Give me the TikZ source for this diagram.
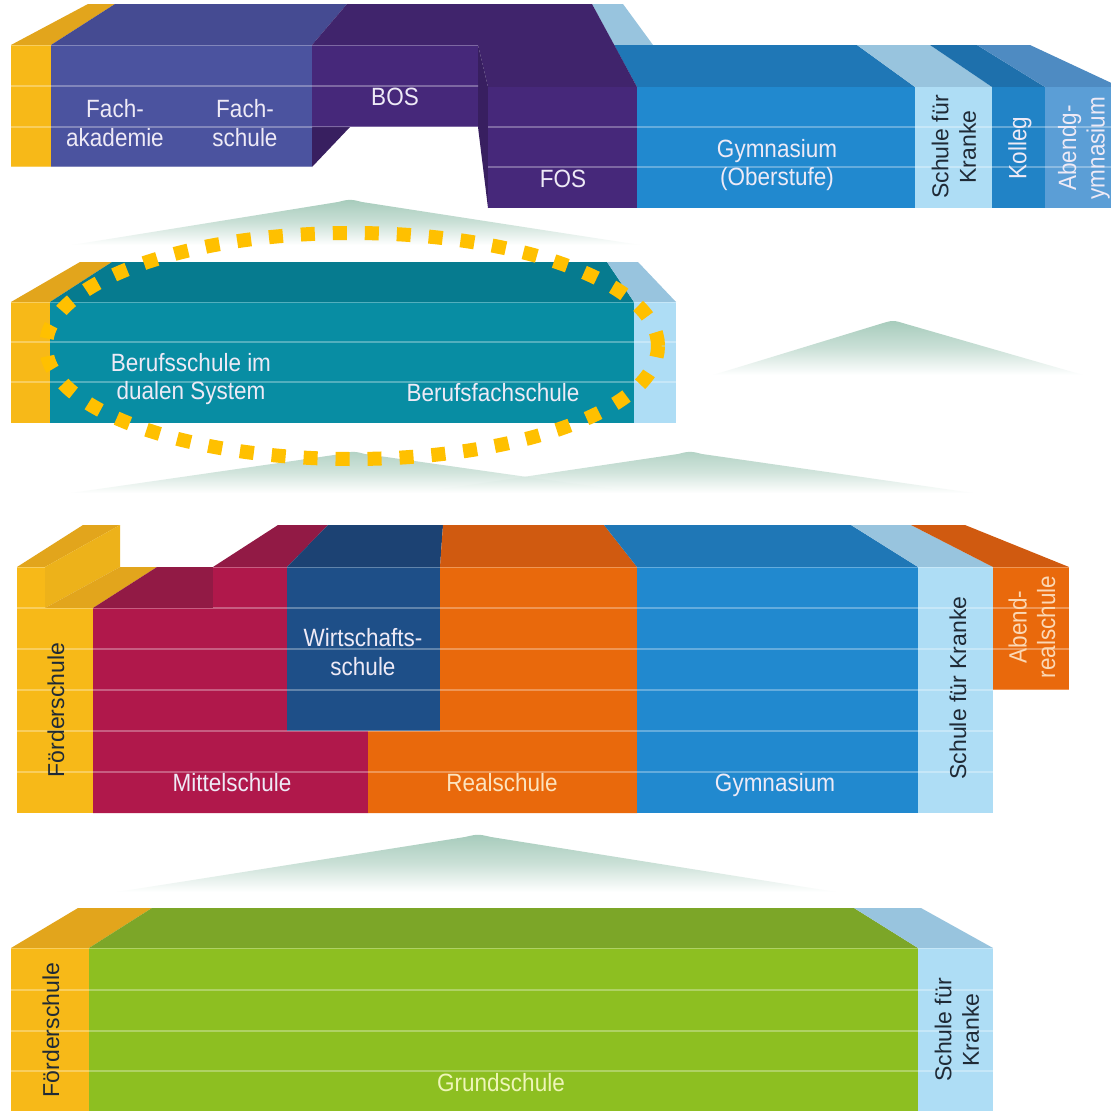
\documentclass[tikz,border=0pt]{standalone}
\usepackage{fontspec}
\setmainfont{Liberation Sans}
\newfontfamily\condfont{Liberation Sans}[FakeStretch=0.9]
\definecolor{yelF}{HTML}{F7B918}
\definecolor{yelT}{HTML}{E2A51C}
\definecolor{yelS}{HTML}{EDB21A}
\definecolor{fachF}{HTML}{4B539F}
\definecolor{fachT}{HTML}{454B92}
\definecolor{purF}{HTML}{46287A}
\definecolor{purT}{HTML}{40246C}
\definecolor{purD}{HTML}{381F60}
\definecolor{gymF}{HTML}{2189CF}
\definecolor{gymT}{HTML}{1F77B6}
\definecolor{lbF}{HTML}{AEDDF5}
\definecolor{lbT}{HTML}{98C4DE}
\definecolor{kolF}{HTML}{2183C6}
\definecolor{kolT}{HTML}{1E70AC}
\definecolor{abgF}{HTML}{5B9ED6}
\definecolor{abgT}{HTML}{4E8BC2}
\definecolor{tealF}{HTML}{088DA3}
\definecolor{tealT}{HTML}{067B8F}
\definecolor{crimF}{HTML}{B0184B}
\definecolor{crimT}{HTML}{921A45}
\definecolor{wF}{HTML}{1E4F88}
\definecolor{wT}{HTML}{1C4273}
\definecolor{orF}{HTML}{E9690C}
\definecolor{orT}{HTML}{D05A10}
\definecolor{grF}{HTML}{8DBF21}
\definecolor{grT}{HTML}{7CA628}
\definecolor{hillc}{HTML}{A6CBBB}
\definecolor{elc}{HTML}{FFC000}
\definecolor{lbltxt}{HTML}{EEEAF6}
\definecolor{darktxt}{HTML}{1F2A36}
\definecolor{realtxt}{HTML}{FCE3BE}
\definecolor{grtxt}{HTML}{EEF5B8}
\definecolor{abtxt}{HTML}{FBD8B5}
\begin{document}
\begin{tikzpicture}[x=1pt,y=-1pt,
  lbl/.style={font=\condfont\fontsize{25}{28.5}\selectfont, align=center, inner sep=0pt, text=lbltxt},
  dark/.style={font=\fontsize{23}{27.5}\selectfont, align=center, inner sep=0pt, text=darktxt},
  hl/.style={white, opacity=0.3, line width=1.3pt},
  hill/.style={top color=hillc, bottom color=white, middle color=hillc!60, draw=none}]
\useasboundingbox (0,0) rectangle (1111,1111);
\clip (0,0) rectangle (1111,1111);
\fill[white] (0,0) rectangle (1111,1111);

% ---------- hills ----------
\path[hill] (72,245) -- (338,202) .. controls (350,199) .. (362,202) -- (640,245) -- cycle;
\path[hill] (713,375) -- (880,324) .. controls (893,320) .. (906,324) -- (1083,375) -- cycle;
\path[hill, opacity=0.85] (415,493) -- (678,454) .. controls (690,451) .. (702,454) -- (973,493) -- cycle;
\path[hill, opacity=0.85] (71,493) -- (341,454) .. controls (353,451) .. (365,454) -- (640,493) -- cycle;
\path[hill] (117,892) -- (465,837) .. controls (478,834) .. (491,837) -- (836,892) -- cycle;

% ---------- row 1 ----------
\fill[yelT] (11,45) -- (51,45) -- (115,4) -- (88,4) -- cycle;
\fill[yelF] (11,45) rectangle (51,167);
\fill[fachT] (51,45) -- (312,45) -- (347,4) -- (115,4) -- cycle;
\fill[fachF] (51,45) rectangle (312,167);
\fill[lbT] (592,4) -- (623,4) -- (653,45) -- (614,45) -- cycle;
\fill[gymT] (614,45) -- (857,45) -- (915,87) -- (637,87) -- cycle;
\fill[lbT] (857,45) -- (930,45) -- (992,87) -- (915,87) -- cycle;
\fill[kolT] (930,45) -- (977,45) -- (1045,87) -- (992,87) -- cycle;
\fill[abgT] (977,45) -- (1030,45) -- (1120,87) -- (1045,87) -- cycle;
\fill[purT] (312,45) -- (347,4) -- (592,4) -- (637,87) -- (488,87) -- (478,45) -- cycle;
\fill[purF] (312,45) rectangle (478,127);
\fill[purD] (312,127) -- (350,127) -- (312,167) -- cycle;
\fill[purD] (478,45) -- (488,87) -- (488,208) -- (478,127) -- cycle;
\fill[purF] (488,87) rectangle (637,208);
\fill[gymF] (637,87) rectangle (915,208);
\fill[lbF] (915,87) rectangle (992,208);
\fill[kolF] (992,87) rectangle (1045,208);
\fill[abgF] (1045,87) rectangle (1111,208);
\begin{scope}
\clip (11,45) rectangle (478,127) (11,127) rectangle (312,167) (488,87) rectangle (1111,208);
\foreach \y in {45,86,127,167} \draw[hl] (0,\y) -- (1111,\y);
\end{scope}
\node[lbl] (fak) at (115,123) {Fach-\\akademie};
\node[lbl] (fsch) at (245,123) {Fach-\\schule};
\node[lbl] (bos) at (395,97) {BOS};
\node[lbl] (fos) at (563,179) {FOS};
\node[lbl] (gymo) at (777,165) {Gymnasium\\(Oberstufe)};
\node[dark, rotate=90] (sfk1) at (954,147) {Schule für\\Kranke};
\node[lbl, rotate=90] (kol) at (1020,148) {Kolleg};
\node[lbl, rotate=90] (abg) at (1084,148) {Abendg-\\ymnasium};

% ---------- row 2 ----------
\fill[yelT] (11,302) -- (50,302) -- (112,262) -- (80,262) -- cycle;
\fill[yelF] (11,302) rectangle (50,423);
\fill[tealT] (50,302) -- (634,302) -- (607,262) -- (112,262) -- cycle;
\fill[tealF] (50,302) rectangle (634,423);
\fill[lbT] (634,302) -- (676,302) -- (638,262) -- (607,262) -- cycle;
\fill[lbF] (634,302) rectangle (676,423);
\begin{scope}
\clip (11,302) rectangle (676,423);
\foreach \y in {302,342,382} \draw[hl] (0,\y) -- (1111,\y);
\end{scope}
\node[lbl] (bsd) at (191,379) {Berufsschule im\\dualen System};
\node[lbl] (bfs) at (493,393) {Berufsfachschule};

% ---------- row 3 ----------
\fill[yelT] (17,567) -- (45,567) -- (120,525) -- (83,525) -- cycle;
\fill[yelS] (45,567) -- (120,525) -- (120,567) -- (45,608) -- cycle;
\fill[yelT] (45,608) -- (93,608) -- (157,567) -- (120,567) -- cycle;
\fill[yelF] (17,567) rectangle (45,813);
\fill[yelF] (45,608) rectangle (93,813);
\fill[crimT] (93,608) -- (157,567) -- (213,567) -- (213,608) -- cycle;
\fill[crimT] (213,567) -- (278,525) -- (328,525) -- (287,567) -- cycle;
\fill[crimF] (93,608) -- (213,608) -- (213,567) -- (287,567) -- (287,731) -- (368,731) -- (368,813) -- (93,813) -- cycle;
\fill[wT] (287,567) -- (328,525) -- (443,525) -- (440,567) -- cycle;
\fill[wF] (287,567) rectangle (440,731);
\fill[orT] (440,567) -- (443,525) -- (604,525) -- (637,567) -- cycle;
\fill[orF] (440,567) -- (637,567) -- (637,813) -- (368,813) -- (368,731) -- (440,731) -- cycle;
\fill[gymT] (604,525) -- (851,525) -- (918,567) -- (637,567) -- cycle;
\fill[gymF] (637,567) rectangle (918,813);
\fill[lbT] (851,525) -- (911,525) -- (993,567) -- (918,567) -- cycle;
\fill[lbF] (918,567) rectangle (993,813);
\fill[orT] (911,525) -- (965,525) -- (1069,567) -- (993,567) -- cycle;
\fill[orF] (993,567) rectangle (1069,690);
\begin{scope}
\clip (17,567) rectangle (45,813) (45,608) rectangle (213,813) (213,567) rectangle (993,813) (993,567) rectangle (1069,690);
\foreach \y in {567,608,649,690,731,772} \draw[hl] (0,\y) -- (1111,\y);
\end{scope}
\node[dark, rotate=90] (fo3) at (56,710) {Förderschule};
\node[lbl] (mit) at (232,783) {Mittelschule};
\node[lbl] (wir) at (363,652) {Wirtschafts-\\schule};
\node[lbl, text=realtxt] (rea) at (502,783) {Realschule};
\node[lbl] (gym) at (775,785) {Gymnasium};
\node[dark, rotate=90] (sfk3) at (958,688) {Schule für Kranke};
\node[lbl, rotate=90, text=abtxt] (abr) at (1032,627) {Abend-\\realschule};

% ---------- row 4 ----------
\fill[yelT] (11,948) -- (89,948) -- (152,908) -- (78,908) -- cycle;
\fill[yelF] (11,948) rectangle (89,1111);
\fill[grT] (89,948) -- (918,948) -- (854,908) -- (152,908) -- cycle;
\fill[grF] (89,948) rectangle (918,1111);
\fill[lbT] (918,948) -- (993,948) -- (921,908) -- (854,908) -- cycle;
\fill[lbF] (918,948) rectangle (993,1111);
\begin{scope}
\clip (11,948) rectangle (993,1111);
\foreach \y in {948,990,1031,1071} \draw[hl] (0,\y) -- (1111,\y);
\end{scope}
\node[dark, rotate=90] (fo4) at (51,1030) {Förderschule};
\node[lbl, text=grtxt] (gru) at (501,1083) {Grundschule};
\node[dark, rotate=90] (sfk4) at (957,1030) {Schule für\\Kranke};

% ---------- dotted ellipse ----------
\draw[elc, line width=14pt, dash pattern=on 14pt off 18pt] (352,346) ellipse [x radius=306pt, y radius=113pt];
\end{tikzpicture}
\end{document}
